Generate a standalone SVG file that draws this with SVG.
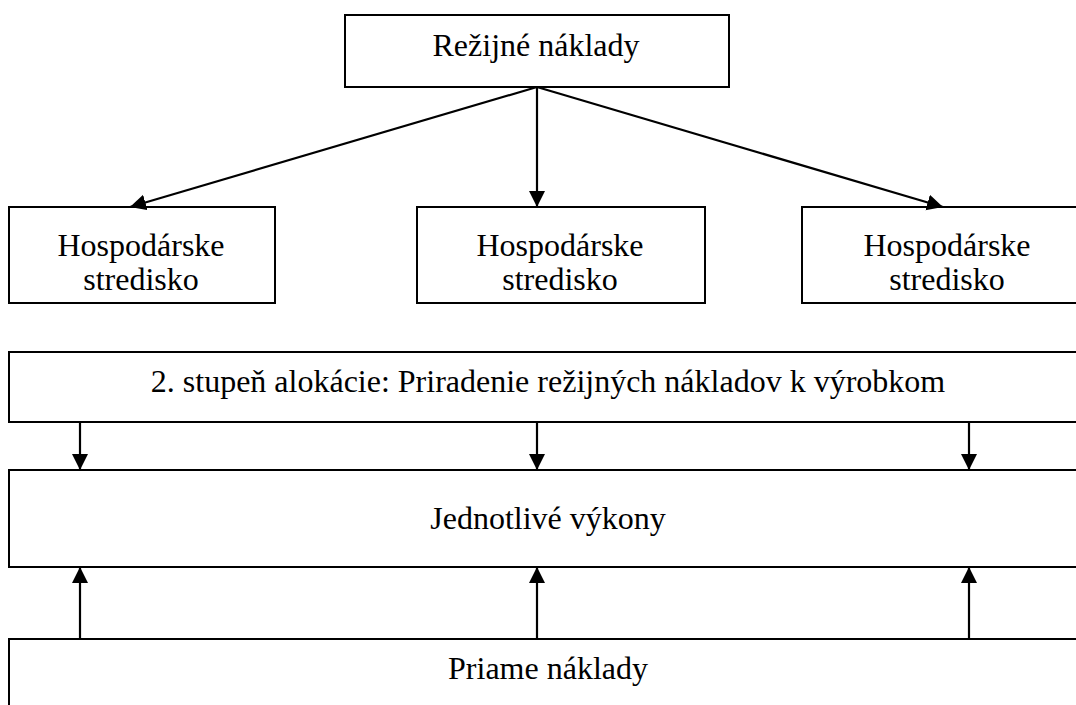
<svg xmlns="http://www.w3.org/2000/svg" width="1076" height="705" viewBox="0 0 1076 705">
  <style>
    .box { fill: #ffffff; stroke: #000000; stroke-width: 2; }
    .lbl { font-family: "Liberation Serif", "Times New Roman", serif; font-size: 32px; fill: #000000; text-anchor: middle; }
    .edge { stroke: #000000; stroke-width: 2.2; fill: none; marker-end: url(#arrow); }
  </style>
  <defs>
    <marker id="arrow" markerUnits="userSpaceOnUse" markerWidth="18" markerHeight="18" refX="16" refY="8" orient="auto">
      <path d="M0,0 L16,8 L0,16 Z" fill="#000000"/>
    </marker>
  </defs>
  <rect width="1076" height="705" fill="#ffffff"/>

  <g id="rezijne-naklady">
    <rect class="box" x="345" y="15" width="384" height="72"/>
    <text class="lbl" x="536" y="56">Režijné náklady</text>
  </g>

  <g id="stredisko-1">
    <rect class="box" x="9" y="207" width="266" height="96"/>
    <text class="lbl" x="141" y="256">Hospodárske</text>
    <text class="lbl" x="141" y="290">stredisko</text>
  </g>

  <g id="stredisko-2">
    <rect class="box" x="417" y="207" width="288" height="96"/>
    <text class="lbl" x="560" y="256">Hospodárske</text>
    <text class="lbl" x="560" y="290">stredisko</text>
  </g>

  <g id="stredisko-3">
    <rect class="box" x="802" y="207" width="290" height="96"/>
    <text class="lbl" x="947" y="256">Hospodárske</text>
    <text class="lbl" x="947" y="290">stredisko</text>
  </g>

  <g id="alokacia">
    <rect class="box" x="9" y="352" width="1090" height="70"/>
    <text class="lbl" x="548" y="392">2. stupeň alokácie: Priradenie režijných nákladov k výrobkom</text>
  </g>

  <g id="vykony">
    <rect class="box" x="9" y="470" width="1090" height="97"/>
    <text class="lbl" x="548" y="529">Jednotlivé výkony</text>
  </g>

  <g id="priame-naklady">
    <rect class="box" x="9" y="639" width="1090" height="90"/>
    <text class="lbl" x="548" y="679">Priame náklady</text>
  </g>

  <g id="connectors">
    <line class="edge" x1="537" y1="87" x2="130" y2="207"/>
    <line class="edge" x1="537" y1="87" x2="537" y2="207"/>
    <line class="edge" x1="537" y1="87" x2="943" y2="207"/>

    <line class="edge" x1="80" y1="422" x2="80" y2="470"/>
    <line class="edge" x1="537" y1="422" x2="537" y2="470"/>
    <line class="edge" x1="969" y1="422" x2="969" y2="470"/>

    <line class="edge" x1="80" y1="639" x2="80" y2="567"/>
    <line class="edge" x1="537" y1="639" x2="537" y2="567"/>
    <line class="edge" x1="969" y1="639" x2="969" y2="567"/>
  </g>
</svg>
